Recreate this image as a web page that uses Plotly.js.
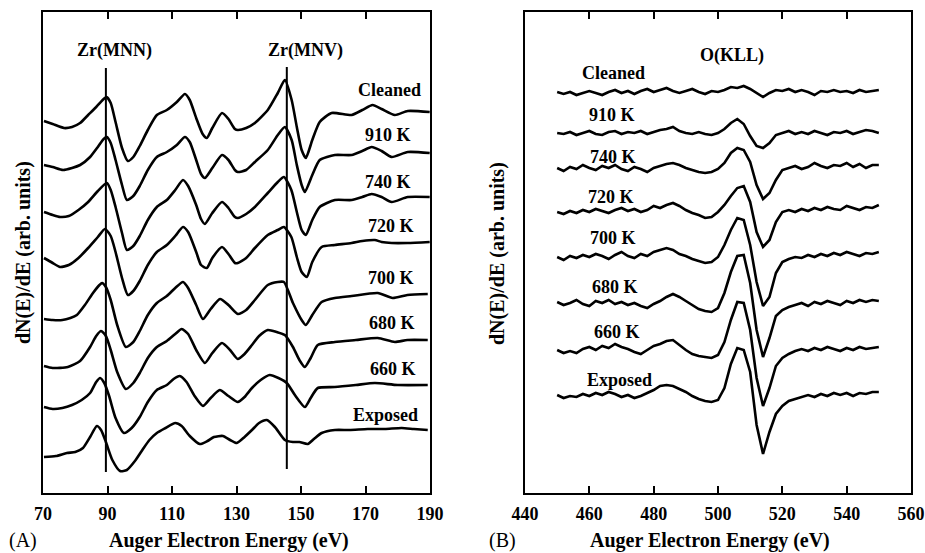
<!DOCTYPE html>
<html>
<head>
<meta charset="utf-8">
<script src="https://cdn.plot.ly/plotly-3.0.1.min.js"></script>
<style>html,body{margin:0;padding:0;background:#fff;}#chart{width:925px;height:553px;}</style>
</head>
<body>
<div id="chart"></div>
<script>
// ---------- Panel A : Zr Auger spectra (energy in eV, dN/dE in arb. units) ----------
const A_cleaned_x = [70.3,73,76.5,79,81.5,84,86.5,88.5,89.7,91,92.5,94.5,96.3,98,100,102.5,105.3,108.4,111.5,114,115.5,117.5,119.5,120.8,122.5,125.5,127.5,129.5,130.4,133,135.7,139.7,142.8,145,147.1,148.7,150.2,151.5,153.5,155.8,159.5,165.7,169,172.2,175,179.1,183.1,189.9];
const A_cleaned_y = [372,369,365,366,370,378,386,393,396,390,371,345,332,336,347,363,378,383,391,399,393,375,359,355,365,380,374,364,363,365,370,383,400,413,393,366,343,335,353,371,380,378,383,388,384,378,382,381];
const A_910_x = [70.3,73,76.2,79,81.5,84.6,87,88.8,89.8,91,92.5,94.5,96,98,100,102.5,105.3,108.4,111.5,114,115.5,117.5,119,120.2,122.5,125.5,127.5,129.5,130.4,133,135.7,139.7,142.8,145,147.1,148.7,150.2,151.2,153.5,155.8,160.5,165.7,169,171.9,175,178.1,183.1,189.9];
const A_910_y = [328,326,323,325,328,336,346,354,356,350,333,308,293,297,307,323,336,341,348,356,351,333,319,315,325,338,333,323,321,323,331,343,358,366,353,328,308,301,318,333,338,338,342,346,342,336,341,340];
const A_740_x = [70.3,73,75.3,78,81,84,87,89.8,91,92.5,94.5,96,98,100,102.5,105.3,108.4,111,113.4,115,117.5,119,120.2,122.5,125.5,127.5,129.5,130.4,133,135.7,139.7,142.8,144.7,147,148.7,150.2,151.5,153.5,155.8,160.5,165.7,169,171.9,175,178.1,183.1,189.9];
const A_740_y = [281,278,276,277,283,291,302,310,303,286,260,243,247,257,273,286,293,303,313,307,288,274,269,280,291,285,276,275,279,286,300,311,316,303,281,263,258,273,286,293,293,296,299,296,291,296,296];
const A_720_x = [70.3,73,75.3,78,81,84,87,89.2,91,92.5,94.5,96.3,98,100,102.5,105.3,108.4,111,113.4,115,117.5,119,120.8,122.5,125.5,127.5,129.5,130.4,133,135.7,139.7,142.8,144.7,147,148.7,150.2,151.8,153.5,156.4,160.5,165.7,169,172.9,175,178.1,183,189.9];
const A_720_y = [235,230,226,228,235,245,256,264,257,241,215,198,202,212,228,241,248,257,266,261,241,228,225,235,246,239,230,230,235,245,258,263,266,256,236,221,216,231,246,248,250,252,253,251,250,250,251];
const A_700_x = [70.3,73,76,78.5,80.5,83,85.5,87.5,88.3,89.5,91,93,95.7,98,100,102.5,105.3,108.4,111,113.4,115,117.5,119.6,122,124.9,127.5,130.4,133,135.7,139.7,142.8,144.7,147.5,150.2,151.5,153.5,156.4,160.5,165.7,173.8,178.4,183,189.3];
const A_700_y = [174,173,173,175,178,188,200,208,210,206,193,168,146,151,162,178,190,197,205,211,205,188,174,184,194,188,179,183,193,208,211,211,190,173,168,178,191,195,197,200,195,198,199];
const A_680_x = [70.3,73,77.7,81.5,84.6,86.5,88,89.5,91,93,95.7,98,100,102.5,105.3,108.4,111,113,115,117.5,120.2,122.5,125.5,128,130.4,132.5,134.8,137,139.7,142.5,145,147.5,149.5,151.2,153,155.2,160.5,167,173.8,179.1,183,189.3];
const A_680_y = [127,125,126,132,146,157,162,157,143,121,104,110,120,135,146,152,159,164,159,143,130,140,150,143,134,139,148,157,163,161,158,146,133,126,135,148,151,153,155,151,153,153];
const A_660_x = [70.3,73,76,79,82,84.6,86.5,87.7,89,90.5,92.5,95.1,97.5,100,102.5,105.3,108.4,110.5,112.4,114.5,117,119.6,122,124.8,127.5,130.4,132.5,134.8,137.5,140.3,143,145.6,148.1,151.2,153,155.2,160.5,167,172.9,180,189.3];
const A_660_y = [86,84,85,88,93,100,111,115,110,97,75,60,65,76,91,103,108,114,117,111,97,87,95,103,97,91,96,105,113,118,115,110,98,86,95,105,106,108,110,108,108];
const A_exposed_x = [70.3,74,77.4,80,82.4,84.6,86.7,88,89.5,91.5,93.9,96,98.5,101,103,105.3,108,111,113,115.5,118.6,121,123,125.8,128,130.1,132.5,134.8,137,139.4,141.9,145,147.5,149.5,152.1,154,156.4,160.5,165,170.7,176,181.2,185,189.3];
const A_exposed_y = [36,37,40,41,45,56,67,63,51,33,22,23,32,44,53,60,65,70,67,57,49,52,56,57,53,50,56,63,70,73,66,53,51,51,49,54,60,63,63,64,64,65,64,63];
const A_labels = ["Cleaned","910 K","740 K","720 K","700 K","680 K","660 K","Exposed"];
const A_label_x = [177.5,176.9,176.9,177.8,177.8,178.1,178.4,176.3];
const A_label_y = [403,358,311,267,215,170,124,78];
const A_markers = ["Zr(MNN)","Zr(MNV)"];
const A_marker_x = [89.5,145.6];
const A_marker_text_x = [92.3,151.5];
const A_marker_text_y = 443;
const A_marker_top = [425,426];
const A_marker_bottom = [21,24];

// ---------- Panel B : O(KLL) Auger spectra ----------
const B_x = [450,452,454,456,458,460,462,464,466,468,470,472,474,476,478,480,482,484,486,488,490,492,494,496,498,500,502,504,506,508,510,512,514,516,518,520,522,524,526,528,530,532,534,536,538,540,542,544,546,548,550];
const B_cleaned = [401,399,401,398,400,402,400,398,401,403,400,402,399,402,404,401,403,405,402,400,402,404,401,399,402,401,403,406,405,407,404,400,396,400,403,402,404,401,403,401,398,402,401,403,401,402,400,403,401,402,403];
const B_910 = [360,359,361,358,360,362,359,358,361,362,359,361,360,362,359,361,363,364,366,362,360,359,361,359,358,360,364,370,374,369,357,347,345,350,358,360,362,359,361,359,362,360,358,361,360,362,359,361,363,362,360];
const B_740 = [325,322,326,324,328,325,323,327,325,328,324,322,326,324,321,325,327,329,330,328,325,323,321,320,321,324,330,340,345,343,331,308,294,300,313,323,325,327,324,326,330,327,325,328,327,330,326,329,325,328,328];
const B_720 = [281,279,282,280,283,281,284,282,280,283,285,282,284,281,283,287,285,288,290,287,283,280,278,275,276,281,288,297,305,307,291,261,246,253,271,281,283,281,284,282,285,283,286,284,283,287,285,283,286,285,288];
const B_700 = [236,233,237,235,238,236,239,237,234,238,241,237,235,239,237,241,243,245,243,239,237,234,232,230,231,236,248,263,275,273,248,211,187,196,220,231,234,236,235,238,236,239,237,240,238,241,239,237,240,239,241];
const B_680 = [191,188,190,193,189,187,192,190,193,189,191,188,190,187,185,189,192,196,199,196,192,188,184,182,181,185,200,221,237,238,210,163,136,155,177,183,186,188,190,187,191,189,192,190,188,192,190,193,191,193,192];
const B_660 = [143,140,142,140,144,146,143,147,145,149,146,144,141,139,143,147,149,152,153,148,143,139,137,136,135,138,151,173,191,190,163,115,87,105,127,135,139,142,144,142,145,143,146,144,142,145,143,146,144,145,146];
const B_exposed = [98,95,97,96,99,97,100,98,101,99,96,98,95,97,100,103,107,108,107,104,101,97,94,92,91,93,105,129,145,143,121,68,39,61,79,87,92,94,96,98,96,99,97,100,98,100,97,100,99,101,101];
const B_labels = ["Cleaned","910 K","740 K","720 K","700 K","680 K","660 K","Exposed"];
const B_label_x = [467.4,467.0,467.4,466.7,467.4,468.1,468.5,469.3];
const B_label_y = [420,378,336,296,255,206,161,113];
const B_marker = "O(KLL)";
const B_marker_x = 504.4;
const B_marker_y = 438;

// ---------- axis ticks and titles ----------
const A_ticks = [70,90,110,130,150,170,190];
const B_ticks = [440,460,480,500,520,540,560];
const xTitle = "Auger Electron Energy (eV)";
const yTitle = "dN(E)/dE (arb. units)";
const panelTags = ["(A)","(B)"];

const FONT = "Liberation Serif, Times New Roman, serif";
const lineStyle = {color:'#000', width:2.6};

const traces = [];
const A_series = [[A_cleaned_x,A_cleaned_y],[A_910_x,A_910_y],[A_740_x,A_740_y],[A_720_x,A_720_y],[A_700_x,A_700_y],[A_680_x,A_680_y],[A_660_x,A_660_y],[A_exposed_x,A_exposed_y]];
A_series.forEach((s,i)=>traces.push({x:s[0],y:s[1],type:'scatter',mode:'lines',name:A_labels[i],line:Object.assign({shape:'spline',smoothing:0.6},lineStyle),xaxis:'x',yaxis:'y',hoverinfo:'skip'}));
A_marker_x.forEach((mx,i)=>traces.push({x:[mx,mx],y:[A_marker_bottom[i],A_marker_top[i]],type:'scatter',mode:'lines',line:{color:'#000',width:2},xaxis:'x',yaxis:'y',hoverinfo:'skip'}));
const B_series = [B_cleaned,B_910,B_740,B_720,B_700,B_680,B_660,B_exposed];
B_series.forEach((s,i)=>traces.push({x:B_x,y:s,type:'scatter',mode:'lines',name:B_labels[i],line:Object.assign({shape:'linear'},lineStyle),xaxis:'x2',yaxis:'y2',hoverinfo:'skip'}));

const ann = [];
const lblFont = {family:FONT,size:18,color:'#000',weight:'bold'};
A_labels.forEach((t,i)=>ann.push({x:A_label_x[i],y:A_label_y[i],xref:'x',yref:'y',text:t,showarrow:false,font:lblFont,xanchor:'center',yanchor:'middle'}));
A_markers.forEach((t,i)=>ann.push({x:A_marker_text_x[i],y:A_marker_text_y,xref:'x',yref:'y',text:t,showarrow:false,font:lblFont,xanchor:'center',yanchor:'middle'}));
B_labels.forEach((t,i)=>ann.push({x:B_label_x[i],y:B_label_y[i],xref:'x2',yref:'y2',text:t,showarrow:false,font:lblFont,xanchor:'center',yanchor:'middle'}));
ann.push({x:B_marker_x,y:B_marker_y,xref:'x2',yref:'y2',text:B_marker,showarrow:false,font:lblFont,xanchor:'center',yanchor:'middle'});
const titleFont = {family:FONT,size:20,color:'#000',weight:'bold'};
const bottomY = 1-540/553;
ann.push({x:228.5/925,y:bottomY,xref:'paper',yref:'paper',text:xTitle,showarrow:false,font:titleFont,xanchor:'center',yanchor:'middle'});
ann.push({x:710/925,y:bottomY,xref:'paper',yref:'paper',text:xTitle,showarrow:false,font:titleFont,xanchor:'center',yanchor:'middle'});
ann.push({x:23/925,y:1-253/553,xref:'paper',yref:'paper',text:yTitle,showarrow:false,font:titleFont,textangle:-90,xanchor:'center',yanchor:'middle'});
ann.push({x:497/925,y:1-253/553,xref:'paper',yref:'paper',text:yTitle,showarrow:false,font:titleFont,textangle:-90,xanchor:'center',yanchor:'middle'});
const plainFont = {family:FONT,size:20,color:'#000'};
ann.push({x:22.5/925,y:bottomY,xref:'paper',yref:'paper',text:panelTags[0],showarrow:false,font:plainFont,xanchor:'center',yanchor:'middle'});
ann.push({x:502.5/925,y:bottomY,xref:'paper',yref:'paper',text:panelTags[1],showarrow:false,font:plainFont,xanchor:'center',yanchor:'middle'});

function xaxisDef(range,ticks,domain,anchor){
  return {range:range,domain:domain,anchor:anchor,tickmode:'array',tickvals:ticks,ticktext:ticks.map(String),
    ticks:'inside',ticklen:7,tickwidth:2,tickcolor:'#000',showline:true,linewidth:2,linecolor:'#000',mirror:'ticks',
    ticklabelstandoff:3,
    showgrid:false,zeroline:false,tickfont:{family:FONT,size:18,color:'#000',weight:'bold'},fixedrange:true};
}
function yaxisDef(domain,anchor){
  return {range:[0,481],domain:domain,anchor:anchor,showticklabels:false,ticks:'',showline:true,linewidth:2,linecolor:'#000',
    mirror:true,showgrid:false,zeroline:false,fixedrange:true};
}
const ydom = [60/553, 541/553];
const layout = {
  width:925,height:553,margin:{l:0,r:0,t:0,b:0},paper_bgcolor:'#fff',plot_bgcolor:'#fff',showlegend:false,
  xaxis:xaxisDef([70,190],A_ticks,[43/925,430/925],'y'),
  yaxis:yaxisDef(ydom,'x'),
  xaxis2:xaxisDef([440,560],B_ticks,[525/925,911/925],'y2'),
  yaxis2:yaxisDef(ydom,'x2'),
  annotations:ann
};
Plotly.newPlot('chart',traces,layout,{displayModeBar:false,staticPlot:true});
</script>
</body>
</html>
